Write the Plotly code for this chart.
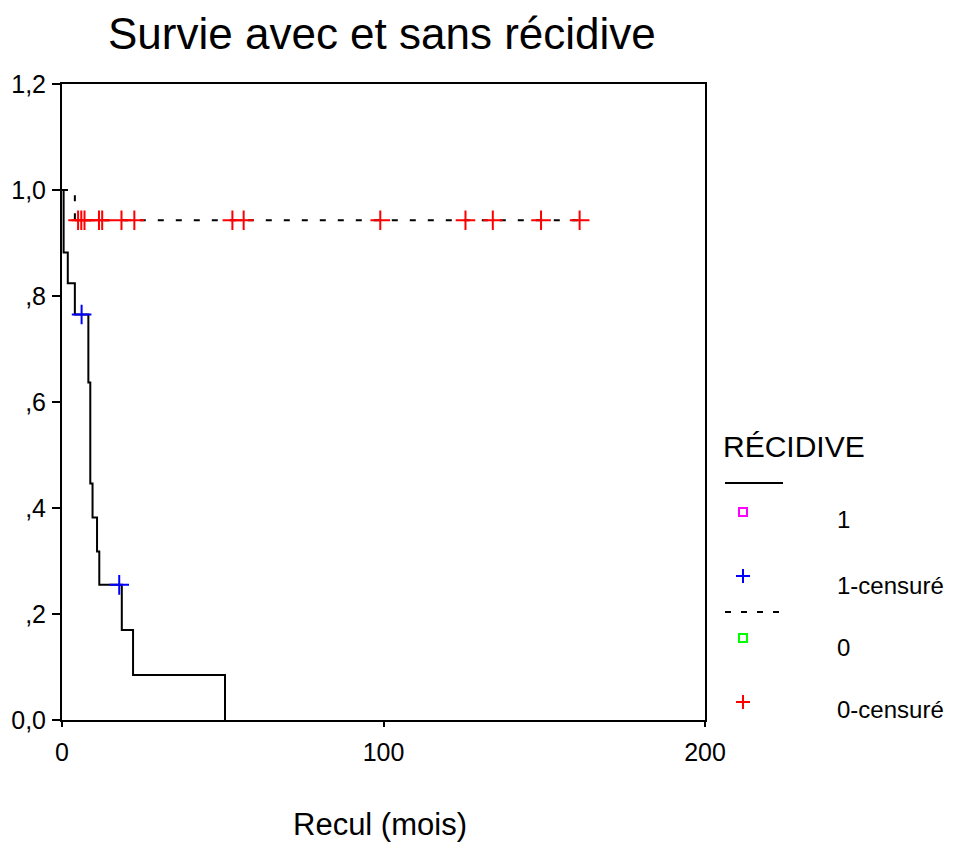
import plotly.graph_objects as go

# ---- data ----
# group RÉCIDIVE = 1 (solid step curve)
times_1 = [0, 0.5, 1.8, 4.0, 8.2, 8.8, 9.5, 10.9, 11.6, 18.6, 22.1, 50.7]
surv_1 = [1.0, 0.882, 0.824, 0.765, 0.637, 0.446, 0.382, 0.318, 0.255, 0.170, 0.085, 0.0]
cens_t_1 = [6.1, 17.8]
cens_s_1 = [0.765, 0.255]

# group RÉCIDIVE = 0 (dashed step curve)
times_0 = [0, 4.0, 161]
surv_0 = [1.0, 0.943, 0.943]
cens_t_0 = [5, 6, 7, 11.5, 12.5, 18.5, 22.5, 53, 56.5, 99, 125.5, 134, 149, 161]
cens_s_0 = [0.943] * len(cens_t_0)

x_ticks = [0, 100, 200]
y_ticks = [0, 0.2, 0.4, 0.6, 0.8, 1.0, 1.2]
y_tick_text = ["0,0", ",2", ",4", ",6", ",8", "1,0", "1,2"]

legend_title = "RÉCIDIVE"
legend_labels = ["1", "1-censuré", "0", "0-censuré"]

FONT = "Liberation Sans, Arial, sans-serif"

# ---- layout geometry (pixels) ----
W, H = 957, 849
L, R, T, B = 62, 705, 84, 720


def px(xp):
    return (xp - L) / (R - L)


def py(yp):
    return (B - yp) / (B - T)


fig = go.Figure()

fig.add_trace(go.Scatter(x=times_1, y=surv_1, mode="lines", line=dict(color="black", width=2, shape="hv"),
                         showlegend=False, hoverinfo="skip"))
fig.add_trace(go.Scatter(x=times_0, y=surv_0, mode="lines",
                         line=dict(color="black", width=2, shape="hv", dash="6px,12px"),
                         showlegend=False, hoverinfo="skip"))
fig.add_trace(go.Scatter(x=cens_t_1, y=cens_s_1, mode="markers",
                         marker=dict(symbol="cross-thin", size=14, line=dict(color="#0000ff", width=2)),
                         showlegend=False))
fig.add_trace(go.Scatter(x=cens_t_0, y=cens_s_0, mode="markers",
                         marker=dict(symbol="cross-thin", size=14, line=dict(color="#ff0000", width=2)),
                         showlegend=False))

shapes = []
annotations = []

# title
annotations.append(dict(text="Survie avec et sans récidive", xref="paper", yref="paper",
                        x=px(382), y=py(34), xanchor="center", yanchor="middle", showarrow=False,
                        font=dict(family=FONT, size=44, color="black")))
# x axis title
annotations.append(dict(text="Recul (mois)", xref="paper", yref="paper",
                        x=px(380), y=py(825), xanchor="center", yanchor="middle", showarrow=False,
                        font=dict(family=FONT, size=31, color="black")))

# legend
annotations.append(dict(text=legend_title, xref="paper", yref="paper",
                        x=px(721), y=py(447), xanchor="left", yanchor="middle", showarrow=False,
                        font=dict(family=FONT, size=30, color="black")))
shapes.append(dict(type="line", xref="paper", yref="paper", x0=px(725), x1=px(783), y0=py(483), y1=py(483),
                   line=dict(color="black", width=2)))
shapes.append(dict(type="line", xref="paper", yref="paper", x0=px(725), x1=px(783), y0=py(612), y1=py(612),
                   line=dict(color="black", width=2, dash="6px,10px")))

item_y = [512, 576, 638, 702]
text_y = [519, 585, 647, 709]
colors = ["#ff00ff", "#0000ff", "#00ff00", "#ff0000"]
kinds = ["square", "plus", "square", "plus"]
for lab, yy, ty, c, k in zip(legend_labels, item_y, text_y, colors, kinds):
    cx = 743
    if k == "square":
        shapes.append(dict(type="rect", xref="paper", yref="paper", x0=px(cx - 4), x1=px(cx + 4),
                           y0=py(yy - 4), y1=py(yy + 4), line=dict(color=c, width=2)))
    else:
        shapes.append(dict(type="line", xref="paper", yref="paper", x0=px(cx - 7), x1=px(cx + 7),
                           y0=py(yy), y1=py(yy), line=dict(color=c, width=2)))
        shapes.append(dict(type="line", xref="paper", yref="paper", x0=px(cx), x1=px(cx),
                           y0=py(yy - 7), y1=py(yy + 7), line=dict(color=c, width=2)))
    annotations.append(dict(text=lab, xref="paper", yref="paper", x=px(835), y=py(ty),
                            xanchor="left", yanchor="middle", showarrow=False,
                            font=dict(family=FONT, size=24, color="black")))

fig.update_layout(
    width=W, height=H,
    margin=dict(l=L, r=W - R, t=T, b=H - B, pad=0),
    paper_bgcolor="white", plot_bgcolor="white",
    font=dict(family=FONT, color="black"),
    showlegend=False,
    shapes=shapes, annotations=annotations,
    xaxis=dict(range=[0, 200], tickvals=x_ticks, ticks="outside", ticklen=5, tickwidth=2,
               tickcolor="black", showline=True, linecolor="black", linewidth=2, mirror=True,
               showgrid=False, zeroline=False, tickfont=dict(family=FONT, size=25),
               ticklabelstandoff=4),
    yaxis=dict(range=[0, 1.2], tickvals=y_ticks, ticktext=y_tick_text, ticks="outside", ticklen=8,
               tickwidth=2, tickcolor="black", showline=True, linecolor="black", linewidth=2,
               mirror=True, showgrid=False, zeroline=False, tickfont=dict(family=FONT, size=25),
               ticklabelstandoff=1),
)

fig.write_html("out.html")
